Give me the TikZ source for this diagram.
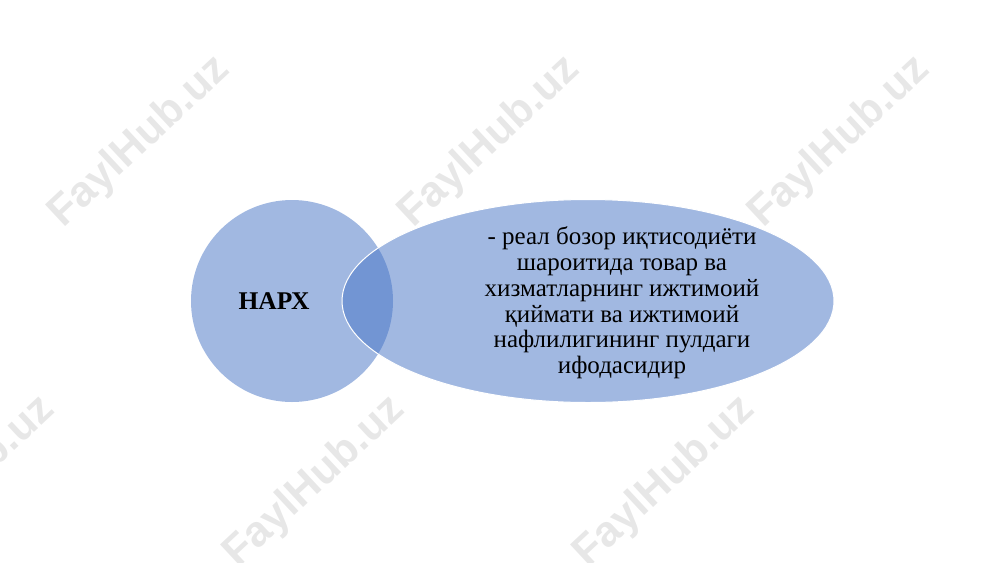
\documentclass[tikz,border=0pt]{standalone}
\usepackage{fontspec}
\setmainfont{Liberation Serif}
\newfontfamily\markfont{Liberation Sans}
\usepackage{tikz}
\usetikzlibrary{positioning, shapes.geometric}
\definecolor{accent}{HTML}{4472C4}
\definecolor{markgray}{HTML}{DDDDDD}
\tikzset{
	blob/.style={fill=accent, fill opacity=0.5, inner sep=0pt}, % the half transparent shapes
	ring/.style={blob, circle, minimum size=202pt}, % the round one on the left
	oval/.style={blob, ellipse, draw=white, line width=1pt, minimum width=492pt, minimum height=203pt}, % the long one
	label/.style={text=black, font=\fontsize{25}{25.8}\selectfont, align=center}, % text in the oval
	watermark/.style={text=markgray, opacity=0.7, font=\markfont\bfseries\fontsize{43}{43}\selectfont, rotate=43}, % site stamp
}
\begin{document}
\begin{tikzpicture}[x=1pt,y=-1pt]
		\useasboundingbox (0,0) rectangle (1000,562);
		\clip (0,0) rectangle (1000,562);

		\node[ring](narx) at (292,301){};
		\node[oval](tarif) at (588,301){};
		\node[font=\bfseries\fontsize{25.5}{25.5}\selectfont] (narxtext) at (274,301){НАРХ};
		\node[label] (tariftext) at (622,303){- реал бозор иқтисодиёти\\шароитида товар ва\\хизматларнинг ижтимоий\\қиймати ва ижтимоий\\нафлилигининг пулдаги\\ифодасидир};

		\foreach \x/\y [count=\i] in {140/142, 490/142, 840/142, -35/482, 315/482, 665/482}
		{
			\node[watermark] (mark\i) at (\x,\y){FaylHub.uz};
		}

	\end{tikzpicture}
\end{document}
